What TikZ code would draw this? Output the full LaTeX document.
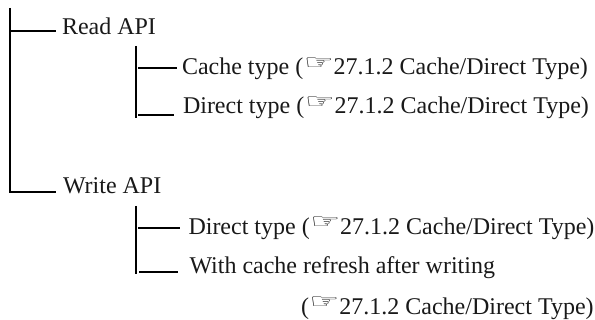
\documentclass[tikz,border=0pt]{standalone}
\usepackage{fontspec}
\setmainfont{Liberation Serif}
\newfontfamily\symfont{DejaVu Sans}
\newcommand{\handref}{(\hspace{0.5pt}\raisebox{5.5pt}{\scalebox{1.4}[0.85]{\symfont\fontsize{24}{24}\selectfont ☞}}\hspace{-0.2pt}27.1.2 Cache/Direct Type)}
\tikzset{
 lbl/.style={anchor=base west,inner sep=0pt,outer sep=0pt,font=\fontsize{24}{26}\selectfont,text=black!90},
 treeline/.style={line width=1.4pt,black}
}
\begin{document}
\begin{tikzpicture}[x=1pt,y=-1pt]
\useasboundingbox (0,0) rectangle (595,320);
\node[lbl] (read) at (62,34.5) {Read API};
\node[lbl] (rc) at (182,75) {Cache type \handref};
\node[lbl] (rd) at (183,114) {Direct type \handref};
\node[lbl] (write) at (63,194) {Write API};
\node[lbl] (wd) at (188.5,234.5) {Direct type \handref};
\node[lbl] (wc) at (189.5,274) {With cache refresh after writing};
\node[lbl] (wr) at (301,314.5) {\handref};
\coordinate (t0) at (10,8);
\coordinate (t1) at (10,193);
\coordinate (j1) at (10,31);
\coordinate (j2) at (10,192);
\coordinate (e1) at (56,31);
\coordinate (e2) at (56,192);
\coordinate (a0) at (136,46);
\coordinate (a1) at (136,118);
\coordinate (a2) at (138,68);
\coordinate (a3) at (177,68);
\coordinate (a4) at (138,115);
\coordinate (a5) at (174,115);
\coordinate (b0) at (136,206);
\coordinate (b1) at (136,274);
\coordinate (b2) at (138,228);
\coordinate (b3) at (180,228);
\coordinate (b4) at (139,272);
\coordinate (b5) at (178,272);
\draw[treeline] (t0) -- (t1);
\draw[treeline] (j1) -- (e1);
\draw[treeline] (j2) -- (e2);
\draw[treeline] (a0) -- (a1);
\draw[treeline] (a2) -- (a3);
\draw[treeline] (a4) -- (a5);
\draw[treeline] (b0) -- (b1);
\draw[treeline] (b2) -- (b3);
\draw[treeline] (b4) -- (b5);
\end{tikzpicture}
\end{document}
